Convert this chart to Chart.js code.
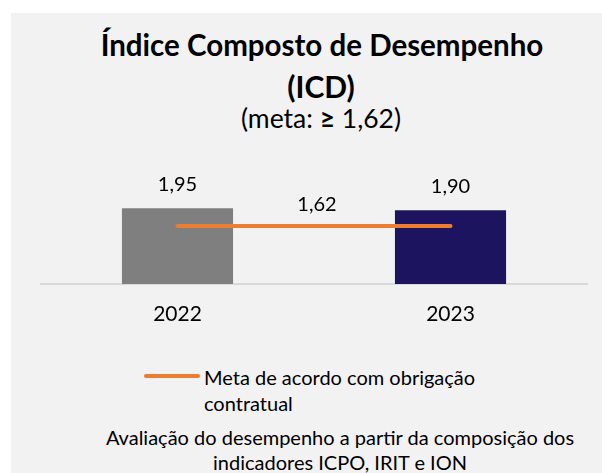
<!DOCTYPE html>
<html><head><meta charset="utf-8">
<script src="https://cdn.jsdelivr.net/npm/chart.js@4/dist/chart.umd.min.js"></script>
<style>
html,body{margin:0;padding:0;background:#fff;}
body{width:602px;height:473px;position:relative;overflow:hidden;font-family:Lato,"Noto Sans",sans-serif;color:#000;}
#panel{position:absolute;left:11px;top:13px;width:591px;height:460px;background:#f2f2f2;}
.c{position:absolute;white-space:nowrap;transform:translate(-50%,-50%);line-height:1;}
#chartbox{position:absolute;left:0;top:0;width:602px;height:340px;}
#legend{position:absolute;left:144px;top:364px;}
#legend .sw{position:absolute;left:0;top:10px;width:56px;height:4px;border-radius:2px;}
#legend .tx{position:absolute;left:60px;top:0;width:300px;font-size:20px;line-height:26px;white-space:normal;}
#footer{position:absolute;left:80px;top:425px;width:520px;text-align:center;font-size:20px;line-height:25px;}
</style></head>
<body>
<div id="panel"></div>
<div id="t1" class="c" style="left:322px;top:45px;font-size:29.5px;font-weight:700;"></div>
<div id="t2" class="c" style="left:321px;top:86px;font-size:30px;font-weight:700;"></div>
<div id="t3" class="c" style="left:321px;top:118px;font-size:26.5px;"></div>
<div id="chartbox"><canvas id="cv" width="602" height="340"></canvas></div>
<div id="legend"></div>
<div id="footer"></div>
<script>
// ---- data ----
const titleLines = ["Índice Composto de Desempenho", "(ICD)"];
const subtitleParts = ["(meta: ", "≥", " 1,62)"];
const categories = ["2022", "2023"];
const icdValues = [1.95, 1.90];
const metaValues = [1.62, 1.62];
const barColors = ["#7f7f7f", "#1c145f"];
const metaLabel = "Meta de acordo com obrigação contratual";
const footerText = "Avaliação do desempenho a partir da composição dos indicadores ICPO, IRIT e ION";

document.getElementById('t1').textContent = titleLines[0];
document.getElementById('t2').textContent = titleLines[1];
const t3 = document.getElementById('t3');
t3.appendChild(document.createTextNode(subtitleParts[0]));
const b = document.createElement('b'); b.textContent = subtitleParts[1]; t3.appendChild(b);
t3.appendChild(document.createTextNode(subtitleParts[2]));
document.getElementById('footer').textContent = footerText;

const fmt = v => v.toFixed(2).replace('.', ',');

const labelPlugin = {
  id: 'valueLabels',
  afterDatasetsDraw(chart) {
    const ctx = chart.ctx;
    ctx.save();
    ctx.fillStyle = '#000';
    ctx.font = '20px Lato, "Noto Sans", sans-serif';
    ctx.textAlign = 'center';
    ctx.textBaseline = 'middle';
    chart.data.datasets.forEach((ds, i) => {
      const meta = chart.getDatasetMeta(i);
      if (ds.type === 'bar') {
        meta.data.forEach((el, j) => ctx.fillText(fmt(ds.data[j]), el.x, el.y - 24));
      } else {
        const a = meta.data[0], z = meta.data[meta.data.length - 1];
        ctx.fillText(fmt(ds.data[0]), (a.x + z.x) / 2 + 3, a.y - 21);
      }
    });
    ctx.restore();
  }
};

const chart = new Chart(document.getElementById('cv'), {
  data: {
    labels: categories,
    datasets: [
      { type: 'line', label: metaLabel, data: metaValues, yAxisID: 'y2',
        borderColor: '#ed7d31', backgroundColor: '#ed7d31', borderWidth: 4,
        borderCapStyle: 'round', pointRadius: 0, pointHoverRadius: 0, order: 0 },
      { type: 'bar', label: 'ICD', data: icdValues, yAxisID: 'y',
        backgroundColor: barColors, barPercentage: 0.407, categoryPercentage: 1, order: 1 }
    ]
  },
  options: {
    responsive: false, animation: false, devicePixelRatio: 1,
    layout: { padding: { left: 41, right: 15, top: 187, bottom: 0 } },
    plugins: { legend: { display: false }, tooltip: { enabled: false } },
    scales: {
      x: {
        grid: { display: false, drawTicks: false },
        border: { display: true, color: '#d9d9d9', width: 2 },
        ticks: { color: '#000', padding: 18, font: { family: 'Lato, "Noto Sans", sans-serif', size: 21 } },
        afterFit: s => { s.height = 56; }
      },
      y: { display: false, min: 0, max: 2.5 },
      y2: { display: false, min: 0, max: 2.71, position: 'right' }
    }
  },
  plugins: [labelPlugin]
});

// legend built from the line dataset
const lg = document.getElementById('legend');
chart.data.datasets.filter(d => d.type === 'line').forEach(d => {
  const sw = document.createElement('div'); sw.className = 'sw'; sw.style.background = d.borderColor;
  const tx = document.createElement('div'); tx.className = 'tx'; tx.textContent = d.label;
  lg.appendChild(sw); lg.appendChild(tx);
});
</script>
</body></html>
